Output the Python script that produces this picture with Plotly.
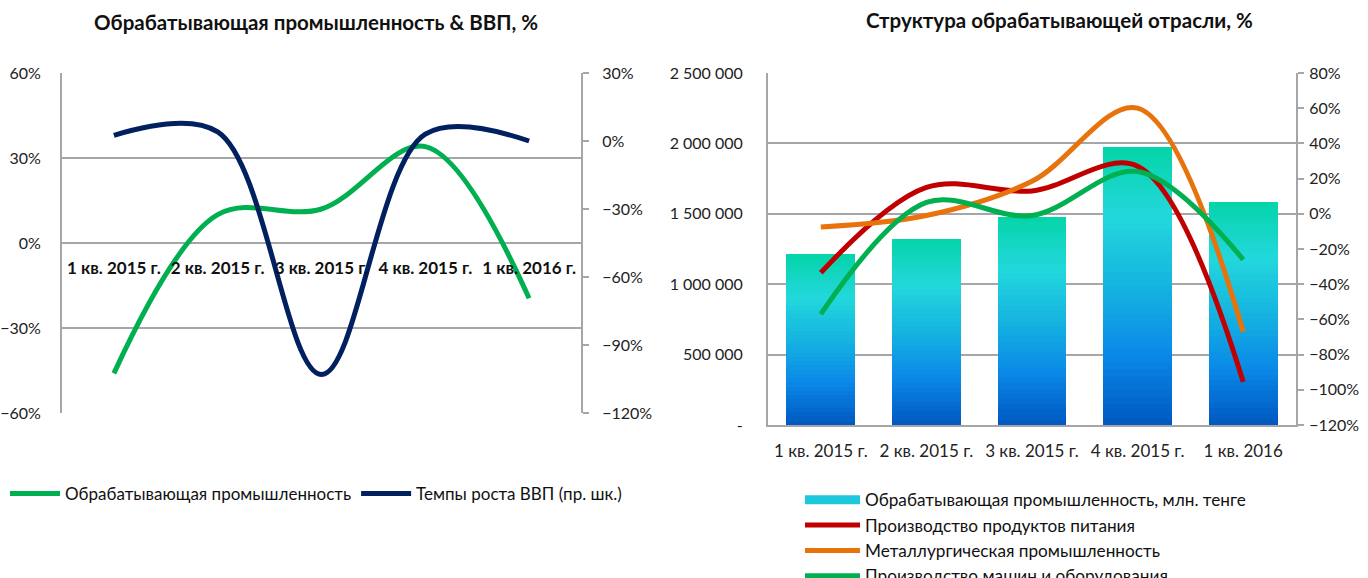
import plotly.graph_objects as go

W, H = 1368, 578

# ---------------- data ----------------
quarters_left = ["1 кв. 2015 г.", "2 кв. 2015 г.", "3 кв. 2015 г.", "4 кв. 2015 г.", "1 кв. 2016 г."]
manuf_growth = [-46, 10, 12, 34, -19.5]          # % (left axis)
gdp_growth = [2.5, 4, -103, 3, 0]                 # % (right axis)

quarters_right = ["1 кв. 2015 г.", "2 кв. 2015 г.", "3 кв. 2015 г.", "4 кв. 2015 г.", "1 кв. 2016"]
manuf_volume = [1211000, 1324000, 1480000, 1977000, 1587000]   # млн. тенге
food = [-33.5, 15, 13, 27, -95.5]
metallurgy = [-7.5, -1, 18.5, 60, -67]
machinery = [-57, 6.5, -1, 24, -26]

vol_tickvals = [0, 500000, 1000000, 1500000, 2000000, 2500000]
vol_ticktext = ["-", "500 000", "1 000 000", "1 500 000", "2 000 000", "2 500 000"]

FONT = "Lato"
GRID = "#a6a6a6"


def px_x(x):
    return x / W


def px_y(y):
    return (H - y) / H


fig = go.Figure()

# ---------- left chart ----------
fig.add_trace(go.Scatter(
    x=quarters_left, y=manuf_growth, name="Обрабатывающая промышленность",
    mode="lines", line=dict(color="#00b050", width=5, shape="spline", smoothing=1.0),
    xaxis="x", yaxis="y", legend="legend"))
fig.add_trace(go.Scatter(
    x=quarters_left, y=gdp_growth, name="Темпы роста ВВП (пр. шк.)",
    mode="lines", line=dict(color="#002060", width=5, shape="spline", smoothing=1.0),
    xaxis="x", yaxis="y2", legend="legend"))

# ---------- right chart: gradient bars (stacked slices) ----------
stops = [(0.0, (0, 88, 192)), (0.25, (10, 136, 232)), (0.5, (22, 180, 224)),
         (0.75, (34, 216, 220)), (1.0, (5, 212, 168))]


def grad(f):
    for (f0, c0), (f1, c1) in zip(stops[:-1], stops[1:]):
        if f0 <= f <= f1:
            t = (f - f0) / (f1 - f0)
            return "rgb(%d,%d,%d)" % tuple(round(a + (b - a) * t) for a, b in zip(c0, c1))
    return "rgb(%d,%d,%d)" % stops[-1][1]


N = 40
for k in range(N):
    fig.add_trace(go.Bar(
        x=quarters_right, y=[v / N for v in manuf_volume],
        marker=dict(color=grad((k + 0.5) / N), line=dict(width=0)),
        showlegend=False, hoverinfo="skip", xaxis="x3", yaxis="y3"))

# legend proxy for the bars
fig.add_trace(go.Scatter(
    x=quarters_right[:1], y=[None], name="Обрабатывающая промышленность, млн. тенге",
    mode="lines", line=dict(color="#1ec8dc", width=9),
    xaxis="x3", yaxis="y3", legend="legend2"))

fig.add_trace(go.Scatter(
    x=quarters_right, y=food, name="Производство продуктов питания",
    mode="lines", line=dict(color="#c00000", width=5, shape="spline", smoothing=1.0),
    xaxis="x3", yaxis="y4", legend="legend2"))
fig.add_trace(go.Scatter(
    x=quarters_right, y=metallurgy, name="Металлургическая промышленность",
    mode="lines", line=dict(color="#e8720c", width=5, shape="spline", smoothing=1.0),
    xaxis="x3", yaxis="y4", legend="legend2"))
fig.add_trace(go.Scatter(
    x=quarters_right, y=machinery, name="Производство машин и оборудования",
    mode="lines", line=dict(color="#00b050", width=5, shape="spline", smoothing=1.0),
    xaxis="x3", yaxis="y4", legend="legend2"))

tickfont = dict(family=FONT, size=16, color="#222222")

left_dom_x = [px_x(62), px_x(581)]
left_dom_y = [px_y(413), px_y(73)]
right_dom_x = [px_x(768), px_x(1296)]
right_dom_y = [px_y(425), px_y(73)]

fig.update_layout(
    width=W, height=H,
    margin=dict(l=0, r=0, t=0, b=0, autoexpand=False),
    paper_bgcolor="white", plot_bgcolor="white",
    barmode="stack", bargap=0.35,
    font=dict(family=FONT, size=16, color="#222222"),
    xaxis=dict(domain=left_dom_x, anchor="free", automargin=False,
               position=(left_dom_y[0] + left_dom_y[1]) / 2,
               type="category", range=[-0.5, len(quarters_left) - 0.5],
               showgrid=False, showline=False, zeroline=False,
               ticks="", ticklabelstandoff=13,
               tickfont=dict(family=FONT, size=17, color="#111111", weight="bold")),
    yaxis=dict(domain=left_dom_y, anchor="x", automargin=False, range=[-60, 60], dtick=30,
               ticksuffix="%", showgrid=True, gridcolor=GRID, gridwidth=2, zeroline=False,
               showline=True, linecolor=GRID, linewidth=2, ticks="",
               ticklabelstandoff=16, tickfont=tickfont),
    yaxis2=dict(overlaying="y", side="right", anchor="x", automargin=False,
                range=[-120, 30], dtick=30,
                ticksuffix="%", showgrid=False, zeroline=False,
                showline=True, linecolor=GRID, linewidth=2,
                ticks="outside", ticklen=6, tickwidth=2, tickcolor=GRID,
                ticklabelstandoff=10, tickfont=tickfont),
    xaxis3=dict(domain=right_dom_x, anchor="y3", type="category", automargin=False,
                range=[-0.5, len(quarters_right) - 0.5],
                showgrid=False, showline=True, linecolor=GRID, linewidth=2,
                ticks="", ticklabelstandoff=10,
                tickfont=dict(family=FONT, size=17, color="#222222")),
    yaxis3=dict(domain=right_dom_y, anchor="x3", automargin=False, range=[0, 2500000],
                tickvals=vol_tickvals, ticktext=vol_ticktext,
                showgrid=True, gridcolor=GRID, gridwidth=2, zeroline=False,
                showline=True, linecolor=GRID, linewidth=2, ticks="",
                ticklabelstandoff=20, tickfont=tickfont),
    yaxis4=dict(overlaying="y3", side="right", anchor="x3", automargin=False,
                range=[-120, 80], dtick=20,
                ticksuffix="%", showgrid=False, zeroline=False,
                showline=True, linecolor=GRID, linewidth=2,
                ticks="outside", ticklen=6, tickwidth=2, tickcolor=GRID,
                ticklabelstandoff=2, tickfont=tickfont),
    legend=dict(orientation="h", x=px_x(5), y=px_y(494), xanchor="left", yanchor="middle",
                itemwidth=50, traceorder="normal",
                font=dict(family=FONT, size=17, color="#111111"),
                bgcolor="rgba(0,0,0,0)"),
    legend2=dict(orientation="v", x=px_x(800), y=px_y(482), xanchor="left", yanchor="top",
                 itemwidth=55, traceorder="normal", maxheight=200,
                 font=dict(family=FONT, size=17.2, color="#111111"),
                 bgcolor="rgba(0,0,0,0)"),
    annotations=[
        dict(text="<b>Обрабатывающая промышленность & ВВП, %</b>", x=px_x(316), y=px_y(22),
             xref="paper", yref="paper", xanchor="center", yanchor="middle", showarrow=False,
             font=dict(family=FONT, size=20.5, color="#111111")),
        dict(text="<b>Структура обрабатывающей отрасли, %</b>", x=px_x(1059), y=px_y(20),
             xref="paper", yref="paper", xanchor="center", yanchor="middle", showarrow=False,
             font=dict(family=FONT, size=20.5, color="#111111")),
    ],
    showlegend=True,
)

fig.write_html("out.html", config={"displayModeBar": False},
               post_script="document.body.style.margin='0';document.body.style.overflow='hidden';")
